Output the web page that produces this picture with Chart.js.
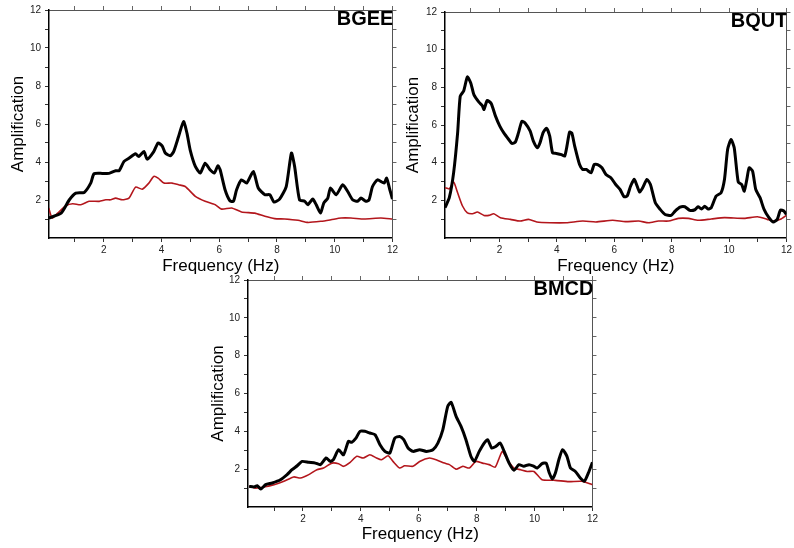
<!DOCTYPE html>
<html>
<head>
<meta charset="utf-8">
<script src="https://cdn.jsdelivr.net/npm/chart.js@4.4.1/dist/chart.umd.min.js"></script>
<style>
body { margin:0; background:#fff; width:794px; height:548px; position:relative; overflow:hidden; }
canvas { position:absolute; }
</style>
</head>
<body>
<canvas id="c1" width="400" height="280" style="left:0;top:0"></canvas>
<canvas id="c2" width="399" height="280" style="left:395px;top:0"></canvas>
<canvas id="c3" width="400" height="278" style="left:200px;top:270px"></canvas>
<script>
// ticks
const xTicks = [1,2,3,4,5,6,7,8,9,10,11,12];
const yTicks = [1,2,3,4,5,6,7,8,9,10,11,12];
const labelledTicks = [2,4,6,8,10,12];

// BGEE
const bgeeObsF = [0.09,0.52,0.8,1.03,1.32,1.55,1.66,1.95,2.18,2.41,2.53,2.7,2.87,3.1,3.21,3.39,3.5,3.73,3.88,4.02,4.13,4.3,4.42,4.59,4.76,4.88,4.99,5.17,5.34,5.51,5.68,5.83,5.95,6.03,6.2,6.37,6.49,6.6,6.77,6.95,7.18,7.35,7.58,7.75,7.9,8.09,8.32,8.5,8.61,8.78,8.96,9.07,9.24,9.36,9.51,9.62,9.76,9.85,10.05,10.28,10.45,10.62,10.79,10.91,11.08,11.19,11.31,11.48,11.71,11.8,11.91,12.0];
const bgeeObsA = [1.05,1.31,2.0,2.36,2.4,2.9,3.38,3.4,3.4,3.54,3.54,4.03,4.2,4.43,4.29,4.55,4.15,4.55,5.0,4.85,4.47,4.33,4.55,5.34,6.13,5.52,4.64,3.77,3.42,3.94,3.59,3.42,3.8,3.59,2.54,1.96,1.93,2.54,3.06,2.89,3.5,2.63,2.28,2.28,1.89,2.05,2.71,4.47,3.77,2.01,1.93,1.75,2.05,1.75,1.31,1.84,2.1,2.63,2.28,2.8,2.45,2.01,1.93,2.1,1.93,2.01,2.71,3.06,2.89,3.15,2.54,2.05];
const bgeeRefF = [0.09,0.21,0.4,0.69,0.92,1.2,1.49,1.84,2.07,2.24,2.41,2.64,2.87,3.1,3.33,3.56,3.73,3.88,4.08,4.36,4.59,4.82,5.17,5.51,5.86,6.08,6.43,6.77,7.23,7.58,7.92,8.27,8.73,9.07,9.53,9.87,10.22,10.56,11.02,11.6,12.0];
const bgeeRefA = [1.58,1.05,1.31,1.7,1.8,1.75,1.93,1.93,2.01,2.01,2.1,2.01,2.1,2.68,2.57,2.89,3.24,3.15,2.89,2.89,2.8,2.71,2.19,1.93,1.75,1.52,1.58,1.37,1.31,1.14,1.02,1.0,0.93,0.82,0.88,0.96,1.05,1.05,1.0,1.05,1.0];

// BQUT
const bqutObsF = [0.1,0.25,0.4,0.54,0.63,0.75,0.88,1.0,1.11,1.29,1.4,1.46,1.57,1.71,1.86,2.01,2.15,2.32,2.43,2.55,2.66,2.78,2.89,3.07,3.18,3.32,3.41,3.52,3.64,3.75,3.85,3.98,4.16,4.27,4.35,4.44,4.52,4.62,4.79,4.9,5.02,5.19,5.3,5.42,5.57,5.71,5.88,6.05,6.2,6.34,6.45,6.57,6.7,6.88,6.99,7.14,7.26,7.43,7.6,7.77,7.98,8.12,8.29,8.46,8.63,8.81,8.92,9.04,9.15,9.27,9.38,9.55,9.72,9.84,9.95,10.07,10.18,10.32,10.44,10.53,10.62,10.7,10.82,10.93,11.08,11.22,11.39,11.54,11.68,11.79,11.91,12.0];
const bqutObsA = [1.61,2.14,3.46,5.58,7.53,7.8,8.55,8.22,7.6,7.2,7.03,6.82,7.3,7.14,6.47,5.94,5.58,5.23,5.02,5.09,5.58,6.2,6.11,5.67,5.14,4.79,5.05,5.6,5.83,5.41,4.52,4.49,4.43,4.35,4.88,5.62,5.57,4.88,3.9,3.64,3.64,3.46,3.9,3.9,3.73,3.37,3.2,2.84,2.58,2.19,2.23,2.76,3.11,2.45,2.67,3.11,2.84,1.87,1.52,1.25,1.2,1.43,1.64,1.66,1.47,1.5,1.66,1.54,1.68,1.54,1.61,2.23,2.4,3.11,4.7,5.23,4.79,2.97,2.84,2.49,3.11,3.73,3.55,2.58,2.14,1.52,1.08,0.85,0.99,1.48,1.43,1.25];
const bqutRefF = [0.1,0.25,0.4,0.54,0.71,0.88,1.06,1.23,1.46,1.63,1.8,2.03,2.38,2.72,3.01,3.3,3.75,4.33,4.9,5.36,5.94,6.39,6.85,7.2,7.54,7.89,8.23,8.58,8.92,9.38,9.84,10.53,10.99,11.33,11.56,11.79,12.0];
const bqutRefA = [2.67,2.61,2.97,2.4,1.7,1.34,1.29,1.38,1.2,1.2,1.29,1.08,0.99,0.9,0.99,0.85,0.81,0.81,0.9,0.85,0.94,0.87,0.9,0.81,0.9,0.9,1.04,1.04,0.94,1.01,1.08,1.04,1.13,0.99,0.9,0.99,1.2];

// BMCD
const bmcdObsF = [0.14,0.31,0.42,0.54,0.71,0.94,1.22,1.45,1.62,1.8,1.97,2.2,2.43,2.6,2.8,2.94,3.05,3.23,3.4,3.57,3.68,3.83,3.97,4.14,4.31,4.49,4.66,4.83,5.0,5.17,5.34,5.48,5.63,5.8,6.03,6.26,6.49,6.66,6.83,7.0,7.12,7.29,7.46,7.63,7.8,7.92,8.09,8.26,8.38,8.52,8.66,8.81,8.95,9.12,9.29,9.46,9.63,9.81,9.98,10.09,10.26,10.4,10.51,10.61,10.72,10.84,10.97,11.12,11.24,11.41,11.58,11.72,11.86,12.0];
const bmcdObsA = [1.09,1.06,1.13,0.95,1.18,1.27,1.44,1.71,1.97,2.18,2.41,2.36,2.32,2.24,2.59,2.41,2.5,3.03,2.76,3.47,3.42,3.64,4.0,4.0,3.91,3.82,3.29,2.94,2.85,3.64,3.73,3.56,3.12,2.94,3.03,2.94,3.03,3.38,4.08,5.32,5.53,4.79,4.26,3.56,2.68,2.41,2.94,3.38,3.56,3.12,3.2,3.38,2.94,2.32,1.94,2.24,2.15,2.24,2.15,2.06,2.29,2.32,1.8,1.48,1.8,2.5,3.03,2.68,2.06,1.88,1.53,1.36,1.8,2.36];
const bmcdRefF = [0.14,0.37,0.65,1.0,1.34,1.68,1.91,2.2,2.48,2.71,3.0,3.23,3.4,3.63,3.86,4.08,4.31,4.54,4.71,4.94,5.11,5.34,5.51,5.8,6.03,6.37,6.6,6.89,7.06,7.29,7.52,7.75,7.97,8.2,8.43,8.64,8.78,8.89,9.06,9.29,9.52,9.75,9.98,10.26,10.72,11.18,11.63,12.0];
const bmcdRefA = [1.09,1.0,1.06,1.18,1.36,1.59,1.53,1.71,1.97,2.06,2.32,2.29,2.15,2.36,2.68,2.59,2.76,2.59,2.5,2.71,2.41,2.06,2.18,2.15,2.41,2.59,2.5,2.32,2.24,2.0,2.15,2.06,2.41,2.32,2.24,2.11,2.59,2.94,2.5,2.06,1.97,1.88,1.88,1.44,1.41,1.34,1.36,1.18];

const fam = '"Liberation Sans", Arial, Helvetica, sans-serif';

const stationLabel = {
  id: 'stationLabel',
  afterDraw(chart, args, opts) {
    const ctx = chart.ctx, a = chart.chartArea;
    ctx.save();
    ctx.beginPath();
    ctx.rect(0, 0, a.right, chart.height);
    ctx.clip();
    ctx.font = 'bold 20px ' + fam;
    ctx.textAlign = 'right';
    ctx.textBaseline = 'alphabetic';
    ctx.fillStyle = '#000';
    ctx.fillText(opts.text, a.right + 1, a.top + 15);
    ctx.restore();
  }
};

function pts(f, a) {
  return f.map((v, i) => ({x: v, y: a[i]}));
}

function setTicks(vals) {
  return s => { s.ticks = vals.map(v => ({value: v})); };
}

function makeChart(id, name, obsF, obsA, refF, refA, box) {
  new Chart(document.getElementById(id), {
    type: 'line',
    data: {
      datasets: [
        {data: pts(obsF, obsA), borderColor: '#000', borderWidth: 3, pointRadius: 0, tension: 0.2},
        {data: pts(refF, refA), borderColor: '#b3161c', borderWidth: 1.6, pointRadius: 0, tension: 0.2}
      ]
    },
    options: {
      responsive: false,
      animation: false,
      layout: {padding: 0},
      plugins: {legend: {display: false}, tooltip: {enabled: false}, stationLabel: {text: name}},
      scales: {
        x: {
          type: 'linear', position: 'bottom', min: 0.1, max: 12,
          afterBuildTicks: setTicks(xTicks),
          afterFit: s => { s.height = box.xH; },
          ticks: {font: {size: 10, family: fam}, color: '#222', padding: 2, maxRotation: 0, autoSkip: false,
                  callback: v => labelledTicks.includes(v) ? String(v) : ''},
          grid: {drawOnChartArea: false, tickLength: 4, color: '#333'},
          border: {color: '#000', width: 1.5},
          title: {display: true, text: 'Frequency (Hz)', color: '#000', font: {size: 17, family: fam}, padding: {top: 0, bottom: 3}}
        },
        x2: {
          type: 'linear', position: 'top', min: 0.1, max: 12,
          afterBuildTicks: setTicks(xTicks),
          afterFit: s => { s.height = box.top; },
          ticks: {display: false},
          grid: {drawOnChartArea: false, tickLength: 4, color: '#666'},
          border: {color: '#555', width: 1}
        },
        y: {
          min: 0, max: 12,
          afterBuildTicks: setTicks(yTicks),
          afterFit: s => { s.width = box.yW; },
          ticks: {font: {size: 10, family: fam}, color: '#222', padding: 4,
                  callback: v => labelledTicks.includes(v) ? String(v) : ''},
          grid: {drawOnChartArea: false, tickLength: 4, color: '#333'},
          border: {color: '#000', width: 1.5},
          title: {display: true, text: 'Amplification', color: '#000', font: {size: 17, family: fam}, padding: {top: 8, bottom: 0}}
        },
        y2: {
          position: 'right', min: 0, max: 12,
          afterBuildTicks: setTicks(yTicks),
          afterFit: s => { s.width = box.right; },
          ticks: {display: false},
          grid: {drawOnChartArea: false, tickLength: 4, color: '#666'},
          border: {color: '#555', width: 1}
        }
      }
    },
    plugins: [stationLabel]
  });
}

makeChart('c1', 'BGEE', bgeeObsF, bgeeObsA, bgeeRefF, bgeeRefA, {yW: 49, top: 10, right: 5, xH: 42});
makeChart('c2', 'BQUT', bqutObsF, bqutObsA, bqutRefF, bqutRefA, {yW: 50, top: 12, right: 3, xH: 42});
makeChart('c3', 'BMCD', bmcdObsF, bmcdObsA, bmcdRefF, bmcdRefA, {yW: 48, top: 10, right: 6, xH: 41});
</script>
</body>
</html>
